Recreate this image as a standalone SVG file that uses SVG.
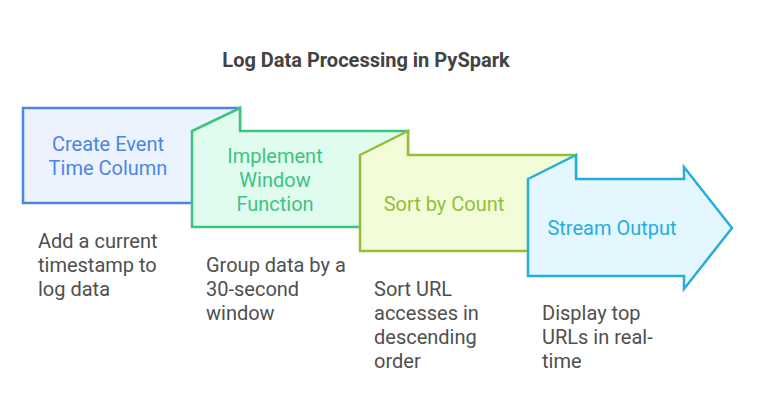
<svg xmlns="http://www.w3.org/2000/svg" width="757" height="420" viewBox="0 0 757 420">
<style>
.title{font-family:Roboto,"Liberation Sans",sans-serif;font-size:20px;font-weight:bold;fill:#434343;text-anchor:middle}
.lbl{font-family:Roboto,"Liberation Sans",sans-serif;font-size:20px;text-anchor:middle}
.desc{font-family:Roboto,"Liberation Sans",sans-serif;font-size:20px;fill:#4f4f4f}
.shape{stroke-width:2.5;stroke-linejoin:miter}
</style>
<rect width="757" height="420" fill="#ffffff"/>
<text class="title" x="366" y="67">Log Data Processing in PySpark</text>
<g id="connectors"></g>
<g id="node1">
<path class="shape" d="M23,108 L240,108 L240,203 L23,203 Z" fill="#ecf3fe" stroke="#4b86e3"/>
<text class="lbl" fill="#4b86e3"><tspan x="108" y="151">Create Event</tspan><tspan x="108" y="175">Time Column</tspan></text>
<text class="desc"><tspan x="38" y="248">Add a current</tspan><tspan x="38" y="272">timestamp to</tspan><tspan x="38" y="296">log data</tspan></text>
</g>
<g id="node2">
<path class="shape" d="M192,131 L240,108 L240,131 L408,131 L408,227 L192,227 Z" fill="#e0fcef" stroke="#3cc382"/>
<text class="lbl" fill="#3cc382"><tspan x="275" y="163">Implement</tspan><tspan x="275" y="187">Window</tspan><tspan x="275" y="211">Function</tspan></text>
<text class="desc"><tspan x="206" y="272">Group data by a</tspan><tspan x="206" y="296">30-second</tspan><tspan x="206" y="320">window</tspan></text>
</g>
<g id="node3">
<path class="shape" d="M360,155 L408,131 L408,155 L576,155 L576,251 L360,251 Z" fill="#f3fcd8" stroke="#93bf38"/>
<text class="lbl" fill="#93bf38"><tspan x="444" y="211">Sort by Count</tspan></text>
<text class="desc"><tspan x="374" y="296">Sort URL</tspan><tspan x="374" y="320">accesses in</tspan><tspan x="374" y="344">descending</tspan><tspan x="374" y="368">order</tspan></text>
</g>
<g id="node4">
<path class="shape" d="M528,179 L576,155 L576,179 L684,179 L684,167 L732,228 L684,289 L684,276 L528,276 Z" fill="#e4f7fe" stroke="#25aedd"/>
<text class="lbl" fill="#25aedd"><tspan x="612" y="235">Stream Output</tspan></text>
<text class="desc"><tspan x="542" y="320">Display top</tspan><tspan x="542" y="344">URLs in real-</tspan><tspan x="542" y="368">time</tspan></text>
</g>
</svg>
